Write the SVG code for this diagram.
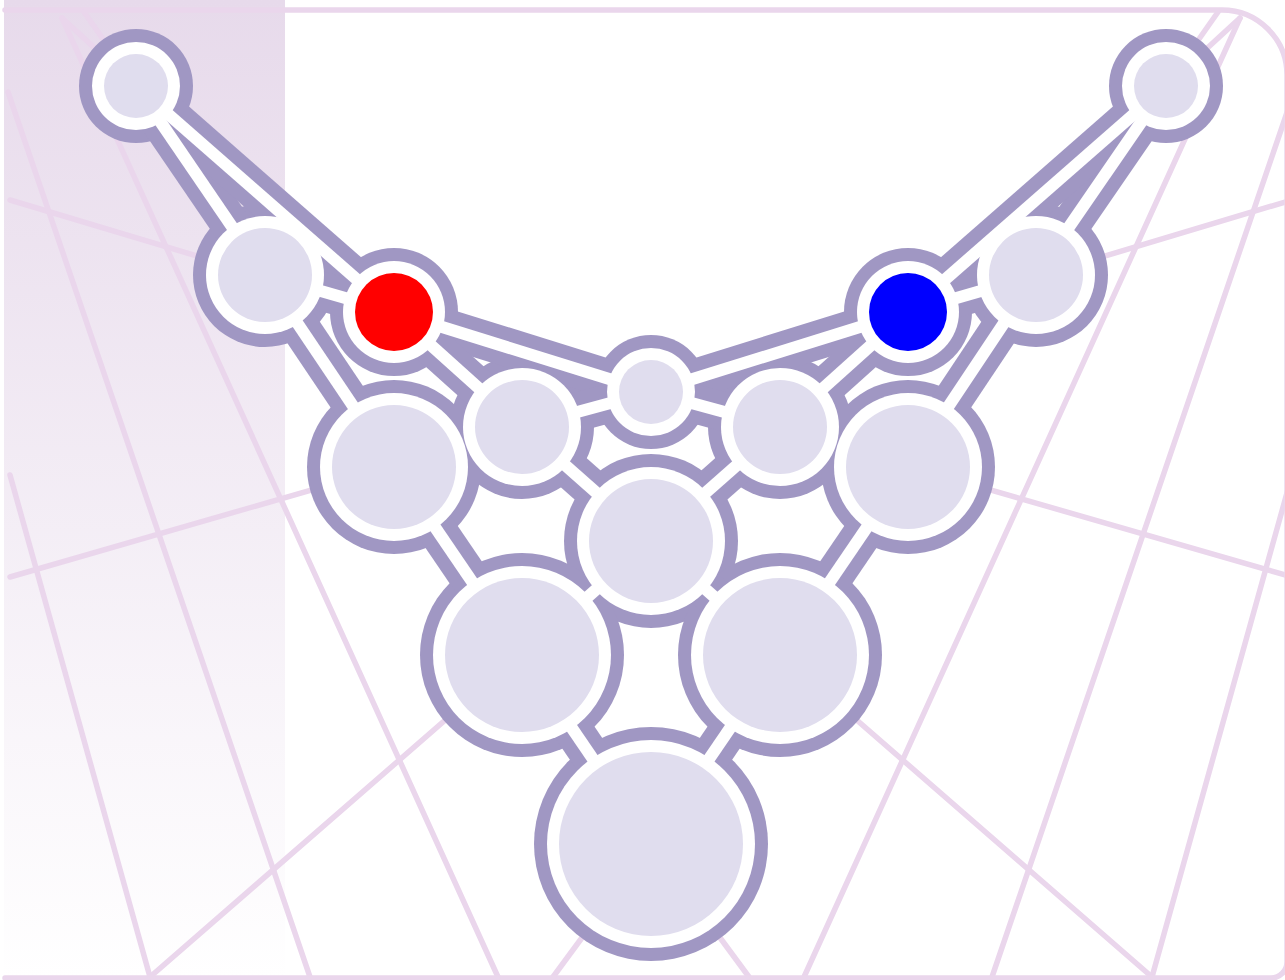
<svg xmlns="http://www.w3.org/2000/svg" width="1285" height="980" viewBox="0 0 1285 980">
<defs>
<linearGradient id="lg" x1="0" y1="0" x2="0" y2="1">
<stop offset="0" stop-color="#e7daeb"/>
<stop offset="1" stop-color="#ffffff"/>
</linearGradient>
<style>
.bg line,.bg path{stroke:#ead6ec;stroke-width:5.5;stroke-linecap:round;fill:none}
.halo{fill:#a097c3}
.casing line{stroke:#a097c3;stroke-width:39}
.core line{stroke:#ffffff;stroke-width:12}
.ring{fill:#ffffff}
.fill{fill:#e0ddee}
</style>
</defs>
<rect width="1285" height="980" fill="#ffffff"/>
<rect x="4" y="0" width="281" height="980" fill="url(#lg)"/>
<g class="bg">
<path d="M5 10 H1222 A65 65 0 0 1 1287 75 V962 A16 16 0 0 1 1271 978 H5"/>
<line x1="10" y1="200" x2="651" y2="392"/>
<line x1="10" y1="577" x2="651" y2="392"/>
<line x1="1292" y1="200" x2="651" y2="392"/>
<line x1="1292" y1="577" x2="651" y2="392"/>
<line x1="10" y1="475" x2="150" y2="977"/>
<line x1="1292" y1="475" x2="1152" y2="977"/>
<line x1="150" y1="977" x2="651" y2="541"/>
<line x1="1152" y1="977" x2="651" y2="541"/>
<line x1="62" y1="18" x2="498" y2="977"/>
<line x1="1240" y1="18" x2="804" y2="977"/>
<line x1="8" y1="92" x2="310" y2="977"/>
<line x1="1294" y1="92" x2="992" y2="977"/>
<line x1="84" y1="12" x2="136" y2="86"/>
<line x1="62" y1="18" x2="136" y2="86"/>
<line x1="1218" y1="12" x2="1166" y2="86"/>
<line x1="1240" y1="18" x2="1166" y2="86"/>
<line x1="651" y1="844" x2="553" y2="977"/>
<line x1="651" y1="844" x2="749" y2="977"/>
</g>
<g id="node-halos">
<circle class="halo" cx="136" cy="86" r="57"/>
<circle class="halo" cx="1166" cy="86" r="57"/>
<circle class="halo" cx="265" cy="275" r="72"/>
<circle class="halo" cx="1036" cy="275" r="72"/>
<circle class="halo" cx="394" cy="312" r="64"/>
<circle class="halo" cx="908" cy="312" r="64"/>
<circle class="halo" cx="651" cy="392" r="57"/>
<circle class="halo" cx="522" cy="427" r="72"/>
<circle class="halo" cx="780" cy="427" r="72"/>
<circle class="halo" cx="394" cy="467" r="87"/>
<circle class="halo" cx="908" cy="467" r="87"/>
<circle class="halo" cx="651" cy="541" r="87"/>
<circle class="halo" cx="522" cy="655" r="102"/>
<circle class="halo" cx="780" cy="655" r="102"/>
<circle class="halo" cx="651" cy="844" r="117"/>
</g>
<g id="connectors">
<g class="casing">
<line x1="136" y1="86" x2="265" y2="275"/>
<line x1="136" y1="86" x2="394" y2="312"/>
<line x1="265" y1="275" x2="394" y2="312"/>
<line x1="265" y1="275" x2="394" y2="467"/>
<line x1="394" y1="312" x2="651" y2="392"/>
<line x1="394" y1="312" x2="522" y2="427"/>
<line x1="522" y1="427" x2="651" y2="392"/>
<line x1="522" y1="427" x2="651" y2="541"/>
<line x1="394" y1="467" x2="522" y2="655"/>
<line x1="651" y1="541" x2="522" y2="655"/>
<line x1="522" y1="655" x2="651" y2="844"/>
<line x1="1166" y1="86" x2="1036" y2="275"/>
<line x1="1166" y1="86" x2="908" y2="312"/>
<line x1="1036" y1="275" x2="908" y2="312"/>
<line x1="1036" y1="275" x2="908" y2="467"/>
<line x1="908" y1="312" x2="651" y2="392"/>
<line x1="908" y1="312" x2="780" y2="427"/>
<line x1="780" y1="427" x2="651" y2="392"/>
<line x1="780" y1="427" x2="651" y2="541"/>
<line x1="908" y1="467" x2="780" y2="655"/>
<line x1="651" y1="541" x2="780" y2="655"/>
<line x1="780" y1="655" x2="651" y2="844"/>
</g>
<g class="core">
<line x1="136" y1="86" x2="265" y2="275"/>
<line x1="136" y1="86" x2="394" y2="312"/>
<line x1="265" y1="275" x2="394" y2="312"/>
<line x1="265" y1="275" x2="394" y2="467"/>
<line x1="394" y1="312" x2="651" y2="392"/>
<line x1="394" y1="312" x2="522" y2="427"/>
<line x1="522" y1="427" x2="651" y2="392"/>
<line x1="522" y1="427" x2="651" y2="541"/>
<line x1="394" y1="467" x2="522" y2="655"/>
<line x1="651" y1="541" x2="522" y2="655"/>
<line x1="522" y1="655" x2="651" y2="844"/>
<line x1="1166" y1="86" x2="1036" y2="275"/>
<line x1="1166" y1="86" x2="908" y2="312"/>
<line x1="1036" y1="275" x2="908" y2="312"/>
<line x1="1036" y1="275" x2="908" y2="467"/>
<line x1="908" y1="312" x2="651" y2="392"/>
<line x1="908" y1="312" x2="780" y2="427"/>
<line x1="780" y1="427" x2="651" y2="392"/>
<line x1="780" y1="427" x2="651" y2="541"/>
<line x1="908" y1="467" x2="780" y2="655"/>
<line x1="651" y1="541" x2="780" y2="655"/>
<line x1="780" y1="655" x2="651" y2="844"/>
</g>
</g>
<g id="node-tl"><circle class="ring" cx="136" cy="86" r="44"/><circle class="fill" cx="136" cy="86" r="32"/></g>
<g id="node-tr"><circle class="ring" cx="1166" cy="86" r="44"/><circle class="fill" cx="1166" cy="86" r="32"/></g>
<g id="node-l2"><circle class="ring" cx="265" cy="275" r="59"/><circle class="fill" cx="265" cy="275" r="47"/></g>
<g id="node-r2"><circle class="ring" cx="1036" cy="275" r="59"/><circle class="fill" cx="1036" cy="275" r="47"/></g>
<g id="node-red"><circle class="ring" cx="394" cy="312" r="51"/><circle cx="394" cy="312" r="39" fill="#ff0000"/></g>
<g id="node-blue"><circle class="ring" cx="908" cy="312" r="51"/><circle cx="908" cy="312" r="39" fill="#0000ff"/></g>
<g id="node-c"><circle class="ring" cx="651" cy="392" r="44"/><circle class="fill" cx="651" cy="392" r="32"/></g>
<g id="node-n8"><circle class="ring" cx="522" cy="427" r="59"/><circle class="fill" cx="522" cy="427" r="47"/></g>
<g id="node-n9"><circle class="ring" cx="780" cy="427" r="59"/><circle class="fill" cx="780" cy="427" r="47"/></g>
<g id="node-n10"><circle class="ring" cx="394" cy="467" r="74"/><circle class="fill" cx="394" cy="467" r="62"/></g>
<g id="node-n11"><circle class="ring" cx="908" cy="467" r="74"/><circle class="fill" cx="908" cy="467" r="62"/></g>
<g id="node-n12"><circle class="ring" cx="651" cy="541" r="74"/><circle class="fill" cx="651" cy="541" r="62"/></g>
<g id="node-n13"><circle class="ring" cx="522" cy="655" r="89"/><circle class="fill" cx="522" cy="655" r="77"/></g>
<g id="node-n14"><circle class="ring" cx="780" cy="655" r="89"/><circle class="fill" cx="780" cy="655" r="77"/></g>
<g id="node-n15"><circle class="ring" cx="651" cy="844" r="104"/><circle class="fill" cx="651" cy="844" r="92"/></g>
</svg>
